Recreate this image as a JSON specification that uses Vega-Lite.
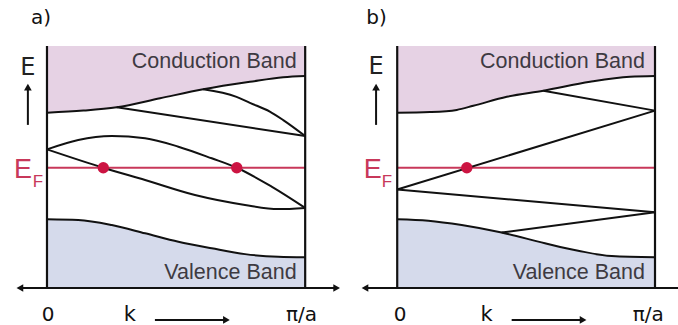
{
  "$schema": "https://vega.github.io/schema/vega-lite/v6.json",
  "padding": 0,
  "spacing": 0,
  "bounds": "flush",
  "background": "white",
  "config": {"view": {"stroke": null}},
  "resolve": {"scale": {"x": "independent", "y": "independent"}},
  "datasets": {
    "curves": [
      {"panel": "a", "id": "cb", "k": 0, "E": 7.24},
      {"panel": "a", "id": "cb", "k": 0.141, "E": 7.33},
      {"panel": "a", "id": "cb", "k": 0.27, "E": 7.47},
      {"panel": "a", "id": "cb", "k": 0.438, "E": 7.84},
      {"panel": "a", "id": "cb", "k": 0.605, "E": 8.21},
      {"panel": "a", "id": "cb", "k": 0.786, "E": 8.52},
      {"panel": "a", "id": "cb", "k": 0.915, "E": 8.71},
      {"panel": "a", "id": "cb", "k": 1.0, "E": 8.76},
      {"panel": "a", "id": "c1", "k": 0.27, "E": 7.47},
      {"panel": "a", "id": "c1", "k": 1.0, "E": 6.28},
      {"panel": "a", "id": "c2", "k": 0.605, "E": 8.21},
      {"panel": "a", "id": "c2", "k": 0.734, "E": 7.9},
      {"panel": "a", "id": "c2", "k": 0.786, "E": 7.65},
      {"panel": "a", "id": "c2", "k": 0.863, "E": 7.29},
      {"panel": "a", "id": "c2", "k": 0.915, "E": 6.94},
      {"panel": "a", "id": "c2", "k": 1.0, "E": 6.28},
      {"panel": "a", "id": "u1", "k": 0, "E": 5.73},
      {"panel": "a", "id": "u1", "k": 0.121, "E": 6.12},
      {"panel": "a", "id": "u1", "k": 0.251, "E": 6.28},
      {"panel": "a", "id": "u1", "k": 0.38, "E": 6.19},
      {"panel": "a", "id": "u1", "k": 0.509, "E": 5.84},
      {"panel": "a", "id": "u1", "k": 0.638, "E": 5.36},
      {"panel": "a", "id": "u1", "k": 0.735, "E": 4.97},
      {"panel": "a", "id": "u1", "k": 0.87, "E": 4.19},
      {"panel": "a", "id": "u1", "k": 1.0, "E": 3.31},
      {"panel": "a", "id": "l1", "k": 0, "E": 5.73},
      {"panel": "a", "id": "l1", "k": 0.218, "E": 4.97},
      {"panel": "a", "id": "l1", "k": 0.38, "E": 4.46},
      {"panel": "a", "id": "l1", "k": 0.573, "E": 3.84},
      {"panel": "a", "id": "l1", "k": 0.767, "E": 3.43},
      {"panel": "a", "id": "l1", "k": 0.896, "E": 3.26},
      {"panel": "a", "id": "l1", "k": 1.0, "E": 3.31},
      {"panel": "a", "id": "vb", "k": 0, "E": 2.84},
      {"panel": "a", "id": "vb", "k": 0.121, "E": 2.81},
      {"panel": "a", "id": "vb", "k": 0.251, "E": 2.6},
      {"panel": "a", "id": "vb", "k": 0.38, "E": 2.26},
      {"panel": "a", "id": "vb", "k": 0.509, "E": 1.91},
      {"panel": "a", "id": "vb", "k": 0.638, "E": 1.64},
      {"panel": "a", "id": "vb", "k": 0.767, "E": 1.4},
      {"panel": "a", "id": "vb", "k": 0.896, "E": 1.29},
      {"panel": "a", "id": "vb", "k": 1.0, "E": 1.27},
      {"panel": "b", "id": "cb", "k": 0, "E": 7.24},
      {"panel": "b", "id": "cb", "k": 0.127, "E": 7.27},
      {"panel": "b", "id": "cb", "k": 0.231, "E": 7.36},
      {"panel": "b", "id": "cb", "k": 0.295, "E": 7.53},
      {"panel": "b", "id": "cb", "k": 0.425, "E": 7.9},
      {"panel": "b", "id": "cb", "k": 0.567, "E": 8.15},
      {"panel": "b", "id": "cb", "k": 0.748, "E": 8.52},
      {"panel": "b", "id": "cb", "k": 0.903, "E": 8.73},
      {"panel": "b", "id": "cb", "k": 1.0, "E": 8.76},
      {"panel": "b", "id": "c1", "k": 0.567, "E": 8.15},
      {"panel": "b", "id": "c1", "k": 1.0, "E": 7.33},
      {"panel": "b", "id": "u1", "k": 0, "E": 4.07},
      {"panel": "b", "id": "u1", "k": 1.0, "E": 7.33},
      {"panel": "b", "id": "d1", "k": 0, "E": 4.07},
      {"panel": "b", "id": "d1", "k": 1.0, "E": 3.13},
      {"panel": "b", "id": "v1", "k": 0.405, "E": 2.29},
      {"panel": "b", "id": "v1", "k": 1.0, "E": 3.13},
      {"panel": "b", "id": "vb", "k": 0, "E": 2.84},
      {"panel": "b", "id": "vb", "k": 0.121, "E": 2.78},
      {"panel": "b", "id": "vb", "k": 0.25, "E": 2.6},
      {"panel": "b", "id": "vb", "k": 0.405, "E": 2.29},
      {"panel": "b", "id": "vb", "k": 0.573, "E": 1.85},
      {"panel": "b", "id": "vb", "k": 0.702, "E": 1.54},
      {"panel": "b", "id": "vb", "k": 0.832, "E": 1.32},
      {"panel": "b", "id": "vb", "k": 1.0, "E": 1.27}
    ],
    "dots": [
      {"panel": "a", "k": 0.218, "E": 4.97},
      {"panel": "a", "k": 0.735, "E": 4.97},
      {"panel": "b", "k": 0.27, "E": 4.97}
    ],
    "arrows": [
      {"panel": "a", "id": "axis", "k": -0.105, "E": 0, "tip": "left"},
      {"panel": "a", "id": "axis", "k": 1.122, "E": 0, "tip": "right"},
      {"panel": "a", "id": "Earrow", "k": -0.074, "E": 6.74, "tip": "none"},
      {"panel": "a", "id": "Earrow", "k": -0.074, "E": 8.3, "tip": "up"},
      {"panel": "a", "id": "karrow", "k": 0.418, "E": -1.32, "tip": "none"},
      {"panel": "a", "id": "karrow", "k": 0.695, "E": -1.32, "tip": "right"},
      {"panel": "b", "id": "axis", "k": -0.125, "E": 0, "tip": "left"},
      {"panel": "b", "id": "axis", "k": 1.09, "E": 0, "tip": "none"},
      {"panel": "b", "id": "Earrow", "k": -0.082, "E": 6.74, "tip": "none"},
      {"panel": "b", "id": "Earrow", "k": -0.082, "E": 8.3, "tip": "up"},
      {"panel": "b", "id": "karrow", "k": 0.444, "E": -1.32, "tip": "none"},
      {"panel": "b", "id": "karrow", "k": 0.721, "E": -1.32, "tip": "right"}
    ],
    "labels": [
      {"panel": "a", "role": "title", "text": "a)", "k": -0.062, "E": 11.14},
      {"panel": "a", "role": "axisE", "text": "E", "k": -0.074, "E": 9.09},
      {"panel": "a", "role": "ef", "text": "E", "k": -0.093, "E": 4.88},
      {"panel": "a", "role": "efsub", "text": "F", "k": -0.035, "E": 4.4},
      {"panel": "a", "role": "tick", "text": "0", "k": 0.004, "E": -1.515},
      {"panel": "a", "role": "kvar", "text": "k", "k": 0.321, "E": -1.515},
      {"panel": "a", "role": "tick", "text": "π/a", "k": 0.986, "E": -1.515},
      {"panel": "a", "role": "band", "text": "Conduction Band", "k": 0.967, "E": 9.35},
      {"panel": "a", "role": "band", "text": "Valence Band", "k": 0.967, "E": 0.607},
      {"panel": "b", "role": "title", "text": "b)", "k": -0.12, "E": 11.14},
      {"panel": "b", "role": "axisE", "text": "E", "k": -0.082, "E": 9.14},
      {"panel": "b", "role": "ef", "text": "E", "k": -0.095, "E": 4.88},
      {"panel": "b", "role": "efsub", "text": "F", "k": -0.04, "E": 4.4},
      {"panel": "b", "role": "tick", "text": "0", "k": 0.011, "E": -1.515},
      {"panel": "b", "role": "kvar", "text": "k", "k": 0.347, "E": -1.515},
      {"panel": "b", "role": "tick", "text": "π/a", "k": 0.974, "E": -1.515},
      {"panel": "b", "role": "band", "text": "Conduction Band", "k": 0.961, "E": 9.35},
      {"panel": "b", "role": "band", "text": "Valence Band", "k": 0.961, "E": 0.607}
    ]
  },
  "hconcat": [
    {
      "width": 339,
      "height": 325,
      "encoding": {
        "x": {"field": "k", "type": "quantitative", "scale": {"domain": [-0.182, 1.131], "nice": false, "zero": false}, "axis": null},
        "y": {"field": "E", "type": "quantitative", "scale": {"domain": [-1.529, 11.901], "nice": false, "zero": false}, "axis": null}
      },
      "layer": [
        {"data": {"name": "curves"}, "transform": [{"filter": "datum.panel=='a' && datum.id=='cb'"}],
         "mark": {"type": "area", "color": "#e6d2e4", "interpolate": "monotone"},
         "encoding": {"y2": {"datum": 10}}},
        {"data": {"name": "curves"}, "transform": [{"filter": "datum.panel=='a' && datum.id=='vb'"}],
         "mark": {"type": "area", "color": "#d5daeb", "interpolate": "monotone"},
         "encoding": {"y2": {"datum": 0}}},
        {"data": {"values": [{"k0": 0, "k1": 1, "E": 4.97}]},
         "mark": {"type": "rule", "color": "#c8385a", "strokeWidth": 2},
         "encoding": {"x": {"field": "k0", "type": "quantitative"}, "x2": {"field": "k1"}}},
        {"data": {"name": "curves"}, "transform": [{"filter": "datum.panel=='a'"}],
         "mark": {"type": "line", "color": "#111111", "strokeWidth": 2, "interpolate": "monotone"},
         "encoding": {"detail": {"field": "id"}}},
        {"data": {"values": [{"k": 0, "E0": 0, "E1": 10}, {"k": 1, "E0": 0, "E1": 10}]},
         "mark": {"type": "rule", "color": "#111111", "strokeWidth": 2.2},
         "encoding": {"y": {"field": "E0", "type": "quantitative"}, "y2": {"field": "E1"}}},
        {"data": {"name": "arrows"}, "transform": [{"filter": "datum.panel=='a'"}],
         "mark": {"type": "line", "color": "#111111", "strokeWidth": 2},
         "encoding": {"detail": {"field": "id"}, "order": {"field": "k"}}},
        {"data": {"name": "arrows"}, "transform": [{"filter": "datum.panel=='a' && datum.tip=='left'"}],
         "mark": {"type": "point", "shape": "triangle-left", "filled": true, "color": "#111111", "size": 60, "opacity": 1},
         "encoding": {}},
        {"data": {"name": "arrows"}, "transform": [{"filter": "datum.panel=='a' && datum.tip=='right'"}],
         "mark": {"type": "point", "shape": "triangle-right", "filled": true, "color": "#111111", "size": 60, "opacity": 1},
         "encoding": {}},
        {"data": {"name": "arrows"}, "transform": [{"filter": "datum.panel=='a' && datum.tip=='up'"}],
         "mark": {"type": "point", "shape": "triangle-up", "filled": true, "color": "#111111", "size": 60, "opacity": 1},
         "encoding": {}},
        {"data": {"name": "dots"}, "transform": [{"filter": "datum.panel=='a'"}],
         "mark": {"type": "point", "shape": "circle", "filled": true, "color": "#cc1442", "size": 130, "opacity": 1},
         "encoding": {}},
        {"data": {"name": "labels"}, "transform": [{"filter": "datum.panel=='a' && datum.role=='band'"}],
         "mark": {"type": "text", "align": "right", "baseline": "middle", "font": "Liberation Sans", "fontSize": 21.5, "color": "#3e3a42"},
         "encoding": {"text": {"field": "text"}}},
        {"data": {"name": "labels"}, "transform": [{"filter": "datum.panel=='a' && datum.role=='title'"}],
         "mark": {"type": "text", "align": "left", "baseline": "middle", "font": "DejaVu Sans", "fontSize": 20, "color": "#111111"},
         "encoding": {"text": {"field": "text"}}},
        {"data": {"name": "labels"}, "transform": [{"filter": "datum.panel=='a' && datum.role=='axisE'"}],
         "mark": {"type": "text", "align": "center", "baseline": "middle", "font": "DejaVu Sans", "fontSize": 24, "color": "#222222"},
         "encoding": {"text": {"field": "text"}}},
        {"data": {"name": "labels"}, "transform": [{"filter": "datum.panel=='a' && datum.role=='tick'"}],
         "mark": {"type": "text", "align": "center", "baseline": "bottom", "font": "DejaVu Sans", "fontSize": 20, "color": "#111111"},
         "encoding": {"text": {"field": "text"}}},
        {"data": {"name": "labels"}, "transform": [{"filter": "datum.panel=='a' && datum.role=='kvar'"}],
         "mark": {"type": "text", "align": "center", "baseline": "bottom", "font": "DejaVu Sans", "fontSize": 21, "color": "#111111"},
         "encoding": {"text": {"field": "text"}}},
        {"data": {"name": "labels"}, "transform": [{"filter": "datum.panel=='a' && datum.role=='ef'"}],
         "mark": {"type": "text", "align": "center", "baseline": "middle", "font": "Liberation Sans", "fontSize": 27, "color": "#c8385a"},
         "encoding": {"text": {"field": "text"}}},
        {"data": {"name": "labels"}, "transform": [{"filter": "datum.panel=='a' && datum.role=='efsub'"}],
         "mark": {"type": "text", "align": "center", "baseline": "middle", "font": "Liberation Sans", "fontSize": 17, "color": "#c8385a"},
         "encoding": {"text": {"field": "text"}}}
      ]
    },
    {
      "width": 339,
      "height": 325,
      "encoding": {
        "x": {"field": "k", "type": "quantitative", "scale": {"domain": [-0.2258, 1.0892], "nice": false, "zero": false}, "axis": null},
        "y": {"field": "E", "type": "quantitative", "scale": {"domain": [-1.529, 11.901], "nice": false, "zero": false}, "axis": null}
      },
      "layer": [
        {"data": {"name": "curves"}, "transform": [{"filter": "datum.panel=='b' && datum.id=='cb'"}],
         "mark": {"type": "area", "color": "#e6d2e4", "interpolate": "monotone"},
         "encoding": {"y2": {"datum": 10}}},
        {"data": {"name": "curves"}, "transform": [{"filter": "datum.panel=='b' && datum.id=='vb'"}],
         "mark": {"type": "area", "color": "#d5daeb", "interpolate": "monotone"},
         "encoding": {"y2": {"datum": 0}}},
        {"data": {"values": [{"k0": 0, "k1": 1, "E": 4.97}]},
         "mark": {"type": "rule", "color": "#c8385a", "strokeWidth": 2},
         "encoding": {"x": {"field": "k0", "type": "quantitative"}, "x2": {"field": "k1"}}},
        {"data": {"name": "curves"}, "transform": [{"filter": "datum.panel=='b'"}],
         "mark": {"type": "line", "color": "#111111", "strokeWidth": 2, "interpolate": "monotone"},
         "encoding": {"detail": {"field": "id"}}},
        {"data": {"values": [{"k": 0, "E0": 0, "E1": 10}, {"k": 1, "E0": 0, "E1": 10}]},
         "mark": {"type": "rule", "color": "#111111", "strokeWidth": 2.2},
         "encoding": {"y": {"field": "E0", "type": "quantitative"}, "y2": {"field": "E1"}}},
        {"data": {"name": "arrows"}, "transform": [{"filter": "datum.panel=='b'"}],
         "mark": {"type": "line", "color": "#111111", "strokeWidth": 2, "clip": true},
         "encoding": {"detail": {"field": "id"}, "order": {"field": "k"}}},
        {"data": {"name": "arrows"}, "transform": [{"filter": "datum.panel=='b' && datum.tip=='left'"}],
         "mark": {"type": "point", "shape": "triangle-left", "filled": true, "color": "#111111", "size": 60, "opacity": 1},
         "encoding": {}},
        {"data": {"name": "arrows"}, "transform": [{"filter": "datum.panel=='b' && datum.tip=='right'"}],
         "mark": {"type": "point", "shape": "triangle-right", "filled": true, "color": "#111111", "size": 60, "opacity": 1},
         "encoding": {}},
        {"data": {"name": "arrows"}, "transform": [{"filter": "datum.panel=='b' && datum.tip=='up'"}],
         "mark": {"type": "point", "shape": "triangle-up", "filled": true, "color": "#111111", "size": 60, "opacity": 1},
         "encoding": {}},
        {"data": {"name": "dots"}, "transform": [{"filter": "datum.panel=='b'"}],
         "mark": {"type": "point", "shape": "circle", "filled": true, "color": "#cc1442", "size": 130, "opacity": 1},
         "encoding": {}},
        {"data": {"name": "labels"}, "transform": [{"filter": "datum.panel=='b' && datum.role=='band'"}],
         "mark": {"type": "text", "align": "right", "baseline": "middle", "font": "Liberation Sans", "fontSize": 21.5, "color": "#3e3a42"},
         "encoding": {"text": {"field": "text"}}},
        {"data": {"name": "labels"}, "transform": [{"filter": "datum.panel=='b' && datum.role=='title'"}],
         "mark": {"type": "text", "align": "left", "baseline": "middle", "font": "DejaVu Sans", "fontSize": 20, "color": "#111111"},
         "encoding": {"text": {"field": "text"}}},
        {"data": {"name": "labels"}, "transform": [{"filter": "datum.panel=='b' && datum.role=='axisE'"}],
         "mark": {"type": "text", "align": "center", "baseline": "middle", "font": "DejaVu Sans", "fontSize": 24, "color": "#222222"},
         "encoding": {"text": {"field": "text"}}},
        {"data": {"name": "labels"}, "transform": [{"filter": "datum.panel=='b' && datum.role=='tick'"}],
         "mark": {"type": "text", "align": "center", "baseline": "bottom", "font": "DejaVu Sans", "fontSize": 20, "color": "#111111"},
         "encoding": {"text": {"field": "text"}}},
        {"data": {"name": "labels"}, "transform": [{"filter": "datum.panel=='b' && datum.role=='kvar'"}],
         "mark": {"type": "text", "align": "center", "baseline": "bottom", "font": "DejaVu Sans", "fontSize": 21, "color": "#111111"},
         "encoding": {"text": {"field": "text"}}},
        {"data": {"name": "labels"}, "transform": [{"filter": "datum.panel=='b' && datum.role=='ef'"}],
         "mark": {"type": "text", "align": "center", "baseline": "middle", "font": "Liberation Sans", "fontSize": 27, "color": "#c8385a"},
         "encoding": {"text": {"field": "text"}}},
        {"data": {"name": "labels"}, "transform": [{"filter": "datum.panel=='b' && datum.role=='efsub'"}],
         "mark": {"type": "text", "align": "center", "baseline": "middle", "font": "Liberation Sans", "fontSize": 17, "color": "#c8385a"},
         "encoding": {"text": {"field": "text"}}}
      ]
    }
  ]
}
